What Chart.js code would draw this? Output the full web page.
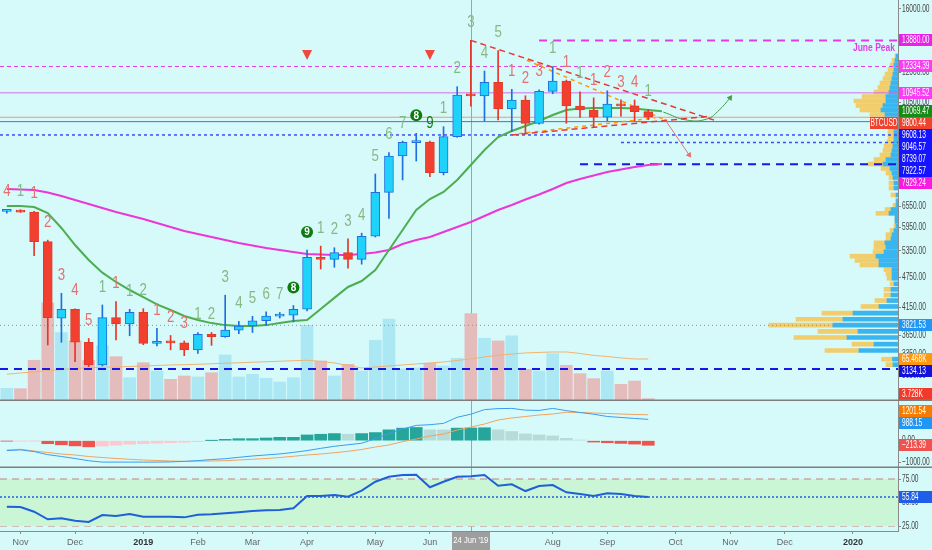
<!DOCTYPE html>
<html>
<head>
<meta charset="utf-8">
<title>BTCUSD weekly</title>
<script src="https://cdn.jsdelivr.net/npm/chart.js@4.4.1/dist/chart.umd.min.js"></script>
<style>
  html, body { margin: 0; padding: 0; background: #d6fafa; }
  #wrap { position: relative; width: 932px; height: 550px; overflow: hidden; }
  canvas { position: absolute; left: 0; }
</style>
</head>
<body>
<div id="wrap">
  <canvas id="priceChart" width="932" height="401" style="top:0"></canvas>
  <canvas id="macdChart" width="932" height="67" style="top:401px"></canvas>
  <canvas id="rsiChart" width="932" height="82" style="top:468px"></canvas>
</div>
<script>
// weekly bars, Monday of each week
const weekStarts = ['2018-10-29','2018-11-05','2018-11-12','2018-11-19','2018-11-26','2018-12-03','2018-12-10','2018-12-17',
  '2018-12-24','2018-12-31','2019-01-07','2019-01-14','2019-01-21','2019-01-28','2019-02-04','2019-02-11','2019-02-18',
  '2019-02-25','2019-03-04','2019-03-11','2019-03-18','2019-03-25','2019-04-01','2019-04-08','2019-04-15','2019-04-22',
  '2019-04-29','2019-05-06','2019-05-13','2019-05-20','2019-05-27','2019-06-03','2019-06-10','2019-06-17','2019-06-24',
  '2019-07-01','2019-07-08','2019-07-15','2019-07-22','2019-07-29','2019-08-05','2019-08-12','2019-08-19','2019-08-26',
  '2019-09-02','2019-09-09','2019-09-16','2019-09-23'];

const opens  = [6400,6420,6380,5581,3946,4109,3539,3193,3956,3845,4053,3522,3545,3530,3418,3669,3630,3740,3810,3902,3985,4000,
  4110,5200,5150,5310,5150,5719,6978,8224,8740,8760,7626,8976,10841,10800,11482,10176,10597,9536,11023,11549,10313,10130,9800,10408,10320,10050];
const highs  = [6460,6450,6400,5620,4418,4120,3600,4190,4253,4110,4120,3770,3650,3560,3700,3700,4380,3890,3980,4060,4050,4180,
  5374,5470,5430,5650,5800,7580,8350,8800,9115,8800,9390,11256,13880,12085,13250,11123,10800,11100,12320,11600,11000,10700,11050,10600,10600,10150];
const lows   = [6350,6370,5237,3496,3539,3240,3170,3180,3578,3645,3500,3480,3420,3331,3365,3490,3620,3680,3700,3820,3950,3880,
  4080,4930,4970,4950,5040,5700,6200,7380,8040,7490,7550,8950,10300,9637,9680,9181,9114,9500,10900,9536,9790,9370,9650,9850,9650,9700];
const closes = [6420,6380,5581,3956,4109,3539,3193,3956,3845,4053,3522,3545,3530,3418,3669,3630,3740,3810,3902,3985,4000,4110,
  5200,5150,5310,5150,5719,6978,8224,8752,8760,7626,8976,10841,10800,11482,10176,10597,9536,11023,11549,10313,10130,9800,10408,10320,10050,9800.44];

// moving averages (one point further right than the last bar)
const greenMA = [6559,6559,6529,6354,5937,5497,5136,4850,4650,4484,4340,4200,4096,3986,3914,3860,3825,3808,3808,3825,3860,3896,
  3914,4115,4327,4546,4670,4909,5374,5883,6441,6770,6988,7378,7897,8452,8963,9211,9421,9635,9902,10128,10197,10220,10220,10220,10197,10128,10069.47];
const pinkMA  = [7084,7068,7052,6972,6862,6739,6618,6500,6384,6283,6184,6073,5964,5857,5777,5700,5623,5547,5485,5423,5374,5326,
  5278,5266,5254,5254,5278,5314,5374,5522,5623,5700,5830,5964,6100,6268,6441,6588,6754,6909,7084,7279,7412,7531,7650,7737,7825,7897,7929.24];

// volume, thousands
const volumes = [19.8,19.2,63.5,153,106.5,93.6,63.5,85.8,69.1,36.3,59.7,46.8,33.8,39,37.4,44.1,71.8,37.4,41.6,35.4,29.6,36.3,
  118,62.4,39,57.2,46.8,94.7,127.5,49.9,51.5,58.8,54.6,66.6,136.2,97.8,93.6,101.4,49.5,46.8,73.8,55.7,42.6,34.8,46.8,26,31.2,3.728];
const volMA = [41.7,43.7,45.2,47.6,49.1,50.7,52,52.6,53,53.8,54.6,55.4,56.2,56.6,57.2,58,58.8,59.6,60.4,61.2,62,62.7,63.5,61.6,
  59.3,55.4,51.5,53,54.6,56.2,57.7,59.3,60.8,63.2,65.5,68.6,71.3,73.3,74.9,75.7,76.4,76.4,74.1,71,69.4,67.1,65.5,65.468];

// MACD pane
const macdLine = [-458,-425,-505,-646,-731,-825,-929,-991,-991,-991,-991,-991,-981,-958,-920,-873,-835,-769,-708,-660,-613,-542,
  -458,-354,-259,-189,-118,94,330,542,708,741,802,1085,1226,1439,1486,1495,1415,1401,1495,1392,1307,1226,1120,1075,1030,988.15];
const signalLine = [-431,-398,-477,-546,-616,-662,-732,-778,-824,-861,-894,-917,-940,-954,-949,-940,-926,-894,-861,-824,-778,-722,
  -662,-616,-556,-491,-407,-292,-199,-46,79,218,310,495,634,773,958,1051,1120,1190,1236,1315,1306,1282,1259,1236,1213,1201.54];
const histogram = [-15,-10,-5,-140,-190,-240,-285,-250,-210,-165,-140,-115,-90,-70,-45,5,63,94,94,126,157,157,267,299,330,299,
  330,377,503,582,613,503,500,582,590,600,503,424,314,267,220,110,31,-63,-94,-126,-157,-213.39];

// RSI pane
const rsi = [45.5,45.2,40.2,32.1,33.2,30.6,29.3,36.7,35.6,37.8,34.9,34.9,34.9,34.2,37.0,37.4,38.5,39.6,41,41.7,42,43.8,56.9,56.9,
  58,56.2,62.6,72.1,77.4,79.3,79.6,66.2,72.1,77.4,78,79.3,67.9,69.4,62.2,67.6,68.6,60.8,59,56.9,59.8,59,56.9,55.84];

// TD sequential counts: R red, G green, C circled, D dark
const tdCounts = [4,1,1,2,3,4,5,1,1,1,2,1,2,3,1,2,3,4,5,6,7,8,9,1,2,3,4,5,6,7,8,9,1,2,3,4,5,1,2,3,1,1,1,1,2,3,4,1];
const tdKinds  = 'RGRRRRRGRGGRRRGGGGGGGCCGGGGGGGCDGGGGGRRRGRGRRRRG';
const sellSignals = [22, 31];

// visible range volume profile
const vpPrice = [3198,3279,3410,3509,3616,3717,3824,3928,4037,4162,4275,4384,4498,4611,4728,4827,4920,5021,5125,5226,5333,5443,
  5552,5656,5760,5870,5997,6120,6234,6345,6455,6579,6715,6893,7115,7279,7462,7615,7772,7932,8095,8263,8431,8605,8782,8963,9147,
  9336,9528,9724,9924,10128,10337,10550,10766,10988,11214,11445,11681,11921,12167,12418,12673,12933];
const vpUp = [5,5.5,39,24,51,40,65,55,45,19,11,7,7,4,6,6,6,19,19,22,14,12,13,7,6,4,2,3,3,9,7,2,1.5,2,4,4,
  5,6,8,15,12,7,6,5,4,4,4,4,5,6,13,17,15,12,12,9,8,7,6,5,4,4,3,2];
const vpDown = [7,11,34,22,53,40,64,47,31,18,12,7,7,4,5,6,8,19,24,26,11,12,11,5,6,4,2,0,0,13,6,3,1,5,5,5,
  4,6,9,15,12,11,9,9,7,6,6,6,7,8,15,21,27,32,24,15,12,11,9,8,6,4,3,1];

// drawn levels and lines
const levelVals     = [13880, 12334.39, 10945.52, 9608.13, 9046.57, 8739.07, 7922.57, 3821.53, 3134.13];
const levelStartBar = [39, null, null, null, null, 45, 42, null, null];
const trendUpperRed  = [{x: 34, y: 13880}, {x: 52, y: 9640}];
const trendLowerRed  = [{x: 37, y: 9046}, {x: 51.3, y: 9830}];
const trendUpperOrg  = [{x: 38.1, y: 12690}, {x: 48.1, y: 9720}];
const trendLowerOrg  = [{x: 37.5, y: 9100}, {x: 47.5, y: 9770}];
const greenArrow = [{x: 48.1, y: 10036}, {x: 49.8, y: 9680}, {x: 51.3, y: 9724}, {x: 52.2, y: 10128}, {x: 53, y: 10700}];
const redArrow   = [{x: 48.2, y: 9724}, {x: 50, y: 8263}];

// time axis
const tickIdx  = [1, 5, 10, 14, 18, 22, 27, 31, 40, 44, 49, 53, 57, 62];
const tickText = ['Nov','Dec','2019','Feb','Mar','Apr','May','Jun','Aug','Sep','Oct','Nov','Dec','2020'];
const crossIdx = 34, crossText = "24 Jun '19";

// ---------------------------------------------------------------
const FONT = "'Liberation Sans',Arial,sans-serif";
Chart.defaults.font.family = FONT;
Chart.defaults.font.size = 9;
Chart.defaults.animation = false;
Chart.defaults.events = [];
Chart.defaults.plugins.legend.display = false;
Chart.defaults.plugins.tooltip.enabled = false;

const X_MIN = -0.5, X_MAX = 65.3;
const LABEL_FONT = '10px ' + FONT, LABEL_SX = 0.66;
const idx = closes.map((_, i) => i);
const isUp = i => closes[i] >= opens[i];
const fmt = v => v.toFixed(2).replace('-', '\u2212');

// narrow text: the page has no condensed font, so squeeze horizontally
function narrowText(ctx, txt, x, y, sx) {
  ctx.save();
  ctx.translate(x, y);
  ctx.scale(sx, 1);
  ctx.fillText(txt, 0, 0);
  ctx.restore();
}

const levelStyle = [
  {c: '#e23ce6', w: 2, d: [8, 6]},
  {c: '#e23ce6', w: 1, d: [4, 3]},
  {c: '#d86be8', w: 1, d: []},
  {c: '#5c6bc0', w: 1, d: []},
  {c: '#3d4cf5', w: 1.5, d: [3, 3]},
  {c: '#3d4cf5', w: 1.5, d: [3, 3]},
  {c: '#1717e8', w: 2, d: [8, 6]},
  {c: '#8f8f8f', w: 1, d: [1, 3]},
  {c: '#1717e8', w: 2, d: [8, 6]}
];

function hLine(value, from, style, order, axis) {
  return {
    type: 'line', order, xAxisID: 'x', yAxisID: axis || 'y',
    data: [{x: from == null ? X_MIN : from, y: value}, {x: X_MAX, y: value}],
    borderColor: style.c, borderWidth: style.w, borderDash: style.d, pointRadius: 0
  };
}

function rightAxis(extra) {
  return Object.assign({
    position: 'right', bounds: 'data', offset: false,
    afterFit: s => { s.width = 34; s.paddingTop = 0; s.paddingBottom = 0; },
    grid: {drawOnChartArea: false, drawTicks: true, tickLength: 3, color: '#8a8a8a', offset: false},
    border: {display: true, color: '#8a8a8a'},
    ticks: {display: false, autoSkip: false}
  }, extra);
}

const hiddenX = {type: 'linear', min: X_MIN, max: X_MAX, display: false, offset: false, bounds: 'data'};

// tick labels of the right axis, drawn from the scale's own ticks
function drawAxisLabels(chart) {
  const {ctx, chartArea} = chart;
  const ys = chart.scales.y;
  ctx.save();
  ctx.font = LABEL_FONT;
  ctx.fillStyle = '#444';
  ctx.textBaseline = 'middle';
  ctx.textAlign = 'left';
  ys.ticks.forEach(t => {
    const py = ys.getPixelForValue(t.value);
    if (py < chartArea.top - 1 || py > chartArea.bottom + 1) return;
    narrowText(ctx, fmt(t.value), chartArea.right + 4, py, LABEL_SX);
  });
  ctx.restore();
}

function drawCrosshair(chart) {
  const {ctx, chartArea} = chart;
  const px = Math.round(chart.scales.x.getPixelForValue(crossIdx)) + 0.5;
  ctx.save();
  ctx.strokeStyle = '#a3a3a3';
  ctx.lineWidth = 1;
  ctx.beginPath();
  ctx.moveTo(px, 0);
  ctx.lineTo(px, chartArea.bottom);
  ctx.stroke();
  ctx.restore();
}

function drawSeparator(chart) {
  const ctx = chart.ctx;
  ctx.save();
  ctx.strokeStyle = '#7d7d7d';
  ctx.lineWidth = 1.5;
  ctx.beginPath();
  ctx.moveTo(0, chart.height - 0.75);
  ctx.lineTo(chart.width, chart.height - 0.75);
  ctx.stroke();
  ctx.restore();
}

// value tags on the price axis; overlapping tags are pushed apart
// (centred on their values when `centre` is set)
function drawTags(chart, tags, centre) {
  const {ctx, chartArea} = chart;
  const h = 12, x0 = chartArea.right + 1, w = chart.width - x0;
  const items = tags.map(t => {
    const py = chart.scales[t.axis || 'y'].getPixelForValue(t.value);
    return Object.assign({}, t, {py, natural: py});
  });
  for (let i = 1; i < items.length; i++) items[i].py = Math.max(items[i].py, items[i - 1].py + h);
  if (centre) {
    let s = 0;
    while (s < items.length) {
      let e = s;
      while (e + 1 < items.length && items[e + 1].py - items[e].py <= h + 0.01 && items[e + 1].natural !== items[e + 1].py) e++;
      const grp = items.slice(s, e + 1);
      const shift = grp.reduce((a, it) => a + it.natural - it.py, 0) / grp.length;
      grp.forEach(it => { it.py += shift; });
      s = e + 1;
    }
  }
  for (let i = items.length - 1; i >= 0; i--) {
    const lim = i === items.length - 1 ? chart.height - h / 2 - 1 : items[i + 1].py - h;
    items[i].py = Math.min(items[i].py, lim);
  }
  ctx.save();
  ctx.font = LABEL_FONT;
  ctx.textBaseline = 'middle';
  items.forEach(it => {
    const top = Math.round(it.py - h / 2);
    ctx.fillStyle = it.bg;
    ctx.fillRect(x0, top, w, h);
    ctx.fillStyle = '#fff';
    ctx.textAlign = 'left';
    const txt = it.k ? it.value.toFixed(3) + 'K' : fmt(it.value);
    narrowText(ctx, txt, x0 + 3, top + h / 2 + 0.5, LABEL_SX);
    if (it.prefix) {
      ctx.fillStyle = it.bg;
      ctx.fillRect(x0 - 29, top, 28, h);
      ctx.fillStyle = '#fff';
      ctx.textAlign = 'center';
      narrowText(ctx, it.prefix, x0 - 15, top + h / 2 + 0.5, LABEL_SX);
    }
  });
  ctx.restore();
}

// ---------------- price pane ----------------
const lastClose = closes[closes.length - 1];
const priceTags = [
  {value: levelVals[0], bg: '#e623e6'},
  {value: levelVals[1], bg: '#fb3cf5'},
  {value: levelVals[2], bg: '#fb3cf5'},
  {value: greenMA[greenMA.length - 1], bg: '#188a18'},
  {value: lastClose, bg: '#f0432d', prefix: 'BTCUSD'},
  {value: levelVals[3], bg: '#1414ff'},
  {value: levelVals[4], bg: '#1414ff'},
  {value: levelVals[5], bg: '#1414ff'},
  {value: levelVals[6], bg: '#1414ff'},
  {value: pinkMA[pinkMA.length - 1], bg: '#f81ce0'},
  {value: levelVals[7], bg: '#2196f3'},
  {value: volMA[volMA.length - 1], axis: 'yVol', bg: '#ff9810', k: true},
  {value: levelVals[8], bg: '#1212d8'},
  {value: volumes[volumes.length - 1], axis: 'yVol', bg: '#f23a2a', k: true}
];

const TD_COLORS = {R: '#e86f6f', G: '#84b884', D: '#137a13'};

const pricePlugin = {
  id: 'priceExtras',
  beforeDatasetsDraw(chart) { drawCrosshair(chart); },
  afterDatasetsDraw(chart) {
    const {ctx, chartArea} = chart;
    const xs = chart.scales.x, ys = chart.scales.y;
    ctx.save();
    ctx.textAlign = 'center';
    ctx.textBaseline = 'middle';
    idx.forEach(i => {
      const px = xs.getPixelForValue(i), py = ys.getPixelForValue(highs[i]) - 18;
      const kind = tdKinds[i], txt = String(tdCounts[i]);
      if (kind === 'C') {
        ctx.fillStyle = '#0f7a12';
        ctx.beginPath();
        ctx.arc(px, py, 6, 0, Math.PI * 2);
        ctx.fill();
        ctx.fillStyle = '#fff';
        ctx.font = 'bold 10px ' + FONT;
        ctx.fillText(txt, px, py + 0.5);
      } else {
        ctx.fillStyle = TD_COLORS[kind];
        ctx.font = '17px ' + FONT;
        narrowText(ctx, txt, px, py, 0.78);
      }
    });
    ctx.fillStyle = '#f0483c';
    sellSignals.forEach(i => {
      const px = xs.getPixelForValue(i), py = chartArea.top + 55;
      ctx.beginPath();
      ctx.moveTo(px - 5, py - 5);
      ctx.lineTo(px + 5, py - 5);
      ctx.lineTo(px, py + 5);
      ctx.closePath();
      ctx.fill();
    });
    ctx.fillStyle = '#e23ce6';
    ctx.font = 'bold 10px ' + FONT;
    ctx.textAlign = 'right';
    narrowText(ctx, 'June Peak', chartArea.right - 3, ys.getPixelForValue(levelVals[0]) + 8, 0.85);
    ctx.restore();
  },
  afterDraw(chart) {
    drawAxisLabels(chart);
    drawTags(chart, priceTags, false);
    drawSeparator(chart);
  }
};

const UP_FILL = '#1ed2fa', UP_LINE = '#1f6fe0', DN_FILL = '#f1402f', DN_LINE = '#e3372a';

const priceDatasets = [
  {
    type: 'bar', order: 1, xAxisID: 'x', yAxisID: 'y', grouped: false, barThickness: 9, minBarLength: 2,
    data: idx.map(i => ({x: i, y: [opens[i], closes[i]]})),
    backgroundColor: idx.map(i => isUp(i) ? UP_FILL : DN_FILL),
    borderColor: idx.map(i => isUp(i) ? UP_LINE : DN_LINE),
    borderWidth: 1, borderSkipped: false
  },
  {
    type: 'bar', order: 2, xAxisID: 'x', yAxisID: 'y', grouped: false, barThickness: 1,
    data: idx.map(i => ({x: i, y: [lows[i], highs[i]]})),
    backgroundColor: idx.map(i => isUp(i) ? UP_LINE : DN_LINE), borderWidth: 0
  },
  {
    type: 'line', order: 3, xAxisID: 'x', yAxisID: 'y',
    data: greenMA.map((v, i) => ({x: i, y: v})), borderColor: '#4cae4f', borderWidth: 2, pointRadius: 0
  },
  {
    type: 'line', order: 3, xAxisID: 'x', yAxisID: 'y',
    data: pinkMA.map((v, i) => ({x: i, y: v})), borderColor: '#ec36d6', borderWidth: 2, pointRadius: 0
  },
  {type: 'line', order: 4, xAxisID: 'x', yAxisID: 'y', data: trendUpperRed, borderColor: '#e53935', borderWidth: 1.5, borderDash: [6, 4], pointRadius: 0},
  {type: 'line', order: 4, xAxisID: 'x', yAxisID: 'y', data: trendLowerRed, borderColor: '#e53935', borderWidth: 1.5, borderDash: [6, 4], pointRadius: 0},
  {type: 'line', order: 4, xAxisID: 'x', yAxisID: 'y', data: trendUpperOrg, borderColor: '#ff9800', borderWidth: 1.5, borderDash: [4, 4], pointRadius: 0},
  {type: 'line', order: 4, xAxisID: 'x', yAxisID: 'y', data: trendLowerOrg, borderColor: '#ff9800', borderWidth: 1.5, borderDash: [4, 4], pointRadius: 0},
  {
    type: 'line', order: 4, xAxisID: 'x', yAxisID: 'y', data: greenArrow, borderColor: '#3f9f43', borderWidth: 1,
    tension: 0.45, pointStyle: 'triangle', pointBackgroundColor: '#3f9f43', pointBorderWidth: 0,
    pointRadius: c => c.dataIndex === greenArrow.length - 1 ? 3.5 : 0, pointRotation: 35
  },
  {
    type: 'line', order: 4, xAxisID: 'x', yAxisID: 'y', data: redArrow, borderColor: '#e57373', borderWidth: 1,
    pointStyle: 'triangle', pointBackgroundColor: '#e57373', pointBorderWidth: 0,
    pointRadius: c => c.dataIndex === redArrow.length - 1 ? 3.5 : 0, pointRotation: 146
  },
  hLine(lastClose, null, {c: '#f3957c', w: 1, d: []}, 5)
].concat(levelVals.map((v, k) => hLine(v, levelStartBar[k], levelStyle[k], 5))).concat([
  {
    type: 'bar', indexAxis: 'y', order: 6, xAxisID: 'xVP', yAxisID: 'y', grouped: false, barThickness: 4,
    data: vpPrice.map((p, k) => ({y: p, x: [0, vpUp[k]]})), backgroundColor: '#39b5ef', borderWidth: 0
  },
  {
    type: 'bar', indexAxis: 'y', order: 6, xAxisID: 'xVP', yAxisID: 'y', grouped: false, barThickness: 4,
    data: vpPrice.map((p, k) => ({y: p, x: [vpUp[k], vpUp[k] + vpDown[k]]})), backgroundColor: '#f1cd6c', borderWidth: 0
  },
  {
    type: 'line', order: 7, xAxisID: 'x', yAxisID: 'yVol',
    data: volMA.map((v, i) => ({x: i, y: v})), borderColor: '#f1b36e', borderWidth: 1, pointRadius: 0
  },
  {
    type: 'bar', order: 8, xAxisID: 'x', yAxisID: 'yVol', grouped: false, barThickness: 12,
    data: idx.map(i => ({x: i, y: volumes[i]})),
    backgroundColor: idx.map(i => isUp(i) ? '#ace7f4' : '#e5bcbc'), borderWidth: 0
  }
]);

new Chart(document.getElementById('priceChart').getContext('2d'), {
  type: 'bar',
  data: {datasets: priceDatasets},
  options: {
    responsive: false,
    layout: {padding: 0, autoPadding: false},
    scales: {
      x: hiddenX,
      xVP: {axis: 'x', type: 'linear', min: 0, max: 898, reverse: true, display: false, offset: false, bounds: 'data'},
      yVol: {axis: 'y', type: 'linear', min: 0, max: 625, display: false, bounds: 'data'},
      y: rightAxis({
        type: 'logarithmic', min: 2713, max: 16665,
        afterBuildTicks: s => { s.ticks = [16000, 12000, 10500, 6550, 5950, 5350, 4750, 4150, 3650, 3350, 3050].map(v => ({value: v})); }
      })
    }
  },
  plugins: [pricePlugin]
});

// ---------------- MACD pane ----------------
const histColors = histogram.map((h, i) => {
  const prev = i ? histogram[i - 1] : 0;
  if (h >= 0) return h >= prev ? '#26a69a' : '#b5dcd8';
  return h <= prev ? '#ef5350' : '#fbc9cf';
});

const macdTags = [
  {value: signalLine[signalLine.length - 1], bg: '#f57c00'},
  {value: macdLine[macdLine.length - 1], bg: '#2196f3'},
  {value: histogram[histogram.length - 1], bg: '#ef5350'}
];

new Chart(document.getElementById('macdChart').getContext('2d'), {
  type: 'bar',
  data: {
    datasets: [
      {type: 'line', order: 1, data: macdLine.map((v, i) => ({x: i, y: v})), borderColor: '#3a9cf0', borderWidth: 1, pointRadius: 0},
      {type: 'line', order: 2, data: signalLine.map((v, i) => ({x: i, y: v})), borderColor: '#f2a35e', borderWidth: 1, pointRadius: 0},
      {type: 'bar', order: 3, grouped: false, barThickness: 12, data: histogram.map((v, i) => ({x: i, y: v})),
        backgroundColor: histColors, borderWidth: 0}
    ]
  },
  options: {
    responsive: false,
    layout: {padding: 0, autoPadding: false},
    scales: {
      x: hiddenX,
      y: rightAxis({
        type: 'linear', min: -1264, max: 1838,
        afterBuildTicks: s => { s.ticks = [1000, 0, -1000].map(v => ({value: v})); }
      })
    }
  },
  plugins: [{
    id: 'macdExtras',
    beforeDatasetsDraw(chart) { drawCrosshair(chart); },
    afterDraw(chart) { drawAxisLabels(chart); drawTags(chart, macdTags, true); drawSeparator(chart); }
  }]
});

// ---------------- RSI pane ----------------
const rsiTags = [{value: rsi[rsi.length - 1], bg: '#1e5ee8'}];

new Chart(document.getElementById('rsiChart').getContext('2d'), {
  type: 'line',
  data: {
    datasets: [
      {order: 1, data: rsi.map((v, i) => ({x: i, y: v})), borderColor: '#1f5fd8', borderWidth: 2, pointRadius: 0},
      hLine(rsi[rsi.length - 1], null, {c: '#1e5ee8', w: 1.5, d: [2, 2]}, 2),
      Object.assign(hLine(75, null, {c: '#c9a9a2', w: 1.5, d: [7, 5]}, 3), {fill: '+1', backgroundColor: '#caf6d6'}),
      hLine(25, null, {c: '#c9a9a2', w: 1.5, d: [7, 5]}, 3)
    ]
  },
  options: {
    responsive: false,
    layout: {padding: 0, autoPadding: false},
    scales: {
      x: {
        type: 'linear', min: X_MIN, max: X_MAX, offset: false, bounds: 'data', position: 'bottom',
        afterFit: s => { s.height = 19; s.paddingLeft = 0; s.paddingRight = 0; },
        afterBuildTicks: s => { s.ticks = tickIdx.map(v => ({value: v})); },
        grid: {drawOnChartArea: false, drawTicks: true, tickLength: 3, color: '#8a8a8a', offset: false},
        border: {display: true, color: '#8a8a8a'},
        ticks: {
          autoSkip: false, maxRotation: 0, padding: 3,
          color: c => /^\d{4}$/.test(tickText[c.index]) ? '#333' : '#666',
          font: c => ({size: 9, weight: /^\d{4}$/.test(tickText[c.index]) ? 'bold' : 'normal'}),
          callback: (v, i) => tickText[i]
        }
      },
      y: rightAxis({
        type: 'linear', min: 19.7, max: 86.7,
        afterBuildTicks: s => { s.ticks = [75, 50, 25].map(v => ({value: v})); }
      })
    }
  },
  plugins: [{
    id: 'rsiExtras',
    beforeDatasetsDraw(chart) { drawCrosshair(chart); },
    afterDraw(chart) {
      drawAxisLabels(chart);
      drawTags(chart, rsiTags, false);
      const {ctx, chartArea} = chart;
      const px = chart.scales.x.getPixelForValue(crossIdx);
      ctx.save();
      ctx.fillStyle = '#9e9e9e';
      ctx.fillRect(Math.round(px - 19), chartArea.bottom + 1, 38, chart.height - chartArea.bottom - 1);
      ctx.fillStyle = '#fff';
      ctx.font = '9px ' + FONT;
      ctx.textAlign = 'center';
      ctx.textBaseline = 'middle';
      narrowText(ctx, crossText, px, chartArea.bottom + 10, 0.85);
      ctx.restore();
    }
  }]
});
</script>
</body>
</html>
